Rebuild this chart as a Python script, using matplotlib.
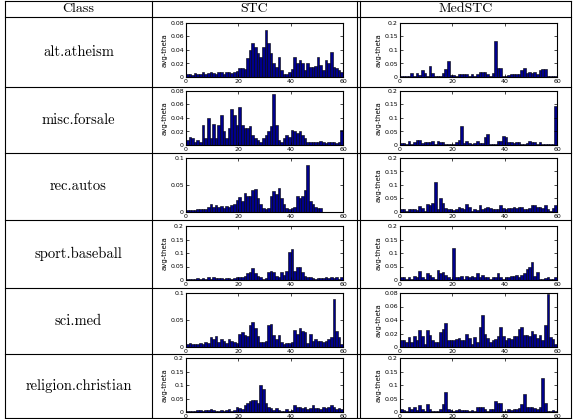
import numpy as np
import matplotlib.pyplot as plt
from matplotlib.lines import Line2D
from matplotlib.ticker import FuncFormatter

W, H = 574, 419

classes = ['alt.atheism', 'misc.forsale', 'rec.autos', 'sport.baseball', 'sci.med', 'religion.christian']

# avg-theta per topic (60 topics)
stc_atheism = [0.004, 0.005, 0.003, 0.006, 0.004, 0.005, 0.007, 0.005, 0.006, 0.008,
               0.006, 0.005, 0.008, 0.007, 0.005, 0.008, 0.007, 0.006, 0.007, 0.009,
               0.013, 0.013, 0.012, 0.028, 0.040, 0.050, 0.045, 0.035, 0.030, 0.045,
               0.070, 0.050, 0.035, 0.020, 0.015, 0.030, 0.010, 0.004, 0.005, 0.008,
               0.012, 0.030, 0.020, 0.025, 0.020, 0.010, 0.020, 0.015, 0.015, 0.016,
               0.030, 0.018, 0.010, 0.025, 0.020, 0.037, 0.015, 0.013, 0.010, 0.008]
med_atheism = [0.005, 0.005, 0.005, 0.005, 0.015, 0.005, 0.015, 0.008, 0.025, 0.015,
               0.005, 0.040, 0.015, 0.005, 0.003, 0.005, 0.015, 0.028, 0.060, 0.008,
               0.008, 0.005, 0.010, 0.010, 0.010, 0.010, 0.005, 0.010, 0.005, 0.010,
               0.020, 0.020, 0.018, 0.010, 0.005, 0.015, 0.135, 0.035, 0.035, 0.005,
               0.003, 0.008, 0.010, 0.010, 0.012, 0.012, 0.025, 0.035, 0.015, 0.018,
               0.015, 0.018, 0.012, 0.025, 0.030, 0.030, 0.005, 0.005, 0.005, 0.005]
stc_forsale = [0.008, 0.012, 0.010, 0.005, 0.008, 0.005, 0.029, 0.010, 0.040, 0.010,
               0.031, 0.010, 0.030, 0.044, 0.020, 0.010, 0.025, 0.054, 0.045, 0.030,
               0.056, 0.030, 0.025, 0.025, 0.028, 0.015, 0.010, 0.008, 0.005, 0.010,
               0.015, 0.020, 0.028, 0.075, 0.030, 0.008, 0.005, 0.010, 0.015, 0.012,
               0.022, 0.020, 0.018, 0.020, 0.015, 0.010, 0.005, 0.005, 0.004, 0.005,
               0.005, 0.006, 0.005, 0.003, 0.005, 0.004, 0.005, 0.003, 0.005, 0.022]
med_forsale = [0.008, 0.008, 0.005, 0.015, 0.005, 0.010, 0.018, 0.018, 0.008, 0.010,
               0.010, 0.012, 0.015, 0.005, 0.015, 0.012, 0.010, 0.005, 0.005, 0.005,
               0.005, 0.010, 0.018, 0.070, 0.008, 0.015, 0.008, 0.003, 0.008, 0.015,
               0.008, 0.008, 0.030, 0.040, 0.003, 0.003, 0.003, 0.015, 0.015, 0.035,
               0.030, 0.010, 0.010, 0.008, 0.012, 0.010, 0.005, 0.005, 0.008, 0.015,
               0.010, 0.010, 0.005, 0.010, 0.005, 0.005, 0.005, 0.003, 0.003, 0.145]
stc_autos = [0.003, 0.004, 0.003, 0.004, 0.005, 0.005, 0.005, 0.006, 0.010, 0.015,
             0.010, 0.013, 0.010, 0.012, 0.008, 0.012, 0.010, 0.013, 0.015, 0.022,
             0.028, 0.020, 0.035, 0.030, 0.030, 0.041, 0.042, 0.025, 0.015, 0.008,
             0.005, 0.008, 0.030, 0.038, 0.033, 0.045, 0.025, 0.015, 0.008, 0.005,
             0.008, 0.010, 0.030, 0.025, 0.030, 0.040, 0.087, 0.020, 0.015, 0.010,
             0.008, 0.008, 0.0, 0.0, 0.0, 0.0, 0.0, 0.0, 0.0, 0.0]
med_autos = [0.010, 0.010, 0.005, 0.010, 0.010, 0.012, 0.008, 0.022, 0.015, 0.005,
             0.030, 0.025, 0.035, 0.110, 0.010, 0.050, 0.035, 0.015, 0.010, 0.010,
             0.008, 0.012, 0.018, 0.015, 0.010, 0.030, 0.020, 0.005, 0.012, 0.008,
             0.025, 0.012, 0.015, 0.018, 0.015, 0.010, 0.010, 0.010, 0.025, 0.015,
             0.012, 0.015, 0.015, 0.018, 0.015, 0.020, 0.018, 0.010, 0.012, 0.015,
             0.025, 0.025, 0.018, 0.020, 0.015, 0.025, 0.010, 0.005, 0.015, 0.025]
stc_baseball = [0.005, 0.005, 0.004, 0.005, 0.006, 0.005, 0.008, 0.005, 0.012, 0.005,
                0.010, 0.008, 0.006, 0.008, 0.005, 0.008, 0.006, 0.005, 0.008, 0.010,
                0.012, 0.012, 0.015, 0.025, 0.030, 0.045, 0.025, 0.015, 0.010, 0.005,
                0.008, 0.030, 0.035, 0.030, 0.015, 0.012, 0.030, 0.020, 0.035, 0.104,
                0.115, 0.035, 0.050, 0.048, 0.030, 0.015, 0.012, 0.010, 0.008, 0.005,
                0.008, 0.006, 0.008, 0.010, 0.008, 0.010, 0.008, 0.010, 0.005, 0.010]
med_baseball = [0.010, 0.010, 0.005, 0.012, 0.005, 0.015, 0.010, 0.035, 0.012, 0.005,
                0.025, 0.018, 0.010, 0.005, 0.038, 0.025, 0.028, 0.020, 0.010, 0.005,
                0.118, 0.010, 0.012, 0.015, 0.005, 0.015, 0.012, 0.015, 0.010, 0.025,
                0.012, 0.020, 0.012, 0.010, 0.005, 0.012, 0.012, 0.025, 0.010, 0.005,
                0.012, 0.012, 0.015, 0.015, 0.020, 0.012, 0.018, 0.025, 0.040, 0.050,
                0.065, 0.015, 0.028, 0.005, 0.003, 0.008, 0.012, 0.005, 0.003, 0.012]
stc_med = [0.005, 0.008, 0.005, 0.006, 0.005, 0.008, 0.005, 0.010, 0.008, 0.018,
           0.015, 0.020, 0.010, 0.015, 0.012, 0.008, 0.015, 0.012, 0.010, 0.008,
           0.025, 0.028, 0.022, 0.020, 0.040, 0.047, 0.035, 0.020, 0.010, 0.010,
           0.012, 0.040, 0.042, 0.022, 0.015, 0.022, 0.010, 0.005, 0.008, 0.008,
           0.010, 0.032, 0.025, 0.035, 0.030, 0.028, 0.008, 0.025, 0.012, 0.015,
           0.012, 0.012, 0.010, 0.012, 0.015, 0.018, 0.088, 0.030, 0.018, 0.006]
med_med = [0.011, 0.010, 0.008, 0.015, 0.008, 0.016, 0.010, 0.025, 0.016, 0.005,
           0.025, 0.018, 0.010, 0.008, 0.008, 0.022, 0.026, 0.036, 0.010, 0.010,
           0.010, 0.012, 0.013, 0.011, 0.010, 0.020, 0.014, 0.005, 0.015, 0.008,
           0.030, 0.047, 0.020, 0.013, 0.008, 0.010, 0.012, 0.016, 0.030, 0.016,
           0.010, 0.014, 0.012, 0.016, 0.017, 0.026, 0.030, 0.018, 0.018, 0.017,
           0.023, 0.020, 0.014, 0.018, 0.010, 0.032, 0.078, 0.015, 0.012, 0.005]
stc_christian = [0.004, 0.005, 0.004, 0.005, 0.006, 0.008, 0.005, 0.006, 0.008, 0.010,
                 0.008, 0.005, 0.005, 0.008, 0.005, 0.008, 0.010, 0.005, 0.008, 0.020,
                 0.015, 0.010, 0.025, 0.035, 0.040, 0.045, 0.045, 0.035, 0.100, 0.085,
                 0.035, 0.020, 0.015, 0.008, 0.015, 0.008, 0.005, 0.005, 0.010, 0.005,
                 0.008, 0.025, 0.020, 0.020, 0.015, 0.020, 0.010, 0.015, 0.025, 0.015,
                 0.015, 0.010, 0.020, 0.015, 0.020, 0.025, 0.020, 0.010, 0.015, 0.012]
med_christian = [0.010, 0.008, 0.005, 0.020, 0.010, 0.018, 0.008, 0.025, 0.012, 0.005,
                 0.028, 0.012, 0.005, 0.005, 0.005, 0.012, 0.030, 0.075, 0.010, 0.008,
                 0.005, 0.008, 0.010, 0.008, 0.008, 0.008, 0.005, 0.008, 0.005, 0.020,
                 0.020, 0.018, 0.010, 0.005, 0.010, 0.010, 0.040, 0.035, 0.035, 0.005,
                 0.005, 0.012, 0.008, 0.010, 0.012, 0.015, 0.030, 0.065, 0.020, 0.020,
                 0.018, 0.015, 0.012, 0.020, 0.125, 0.035, 0.005, 0.005, 0.008, 0.005]

stc_rows = [stc_atheism, stc_forsale, stc_autos, stc_baseball, stc_med, stc_christian]
med_rows = [med_atheism, med_forsale, med_autos, med_baseball, med_med, med_christian]
stc_ymax = [0.08, 0.08, 0.1, 0.2, 0.1, 0.2]
med_ymax = [0.2, 0.2, 0.2, 0.2, 0.08, 0.2]
stc_has_label = [True, True, False, True, False, True]

# table geometry (pixels)
row_lines = [17, 87, 153, 220, 288, 354]
x_left, x_class, x_dbl, x_right = 5, 152, 357, 571
axes_top = [23, 91, 158, 226, 293, 358]
axes_h = 54
stc_x = (186, 343)
med_x = (400, 557)

fig = plt.figure(figsize=(W / 100, H / 100), dpi=100)


def px_line(x0, y0, x1, y1, lw=0.8):
    fig.add_artist(Line2D([x0 / W, x1 / W], [1 - y0 / H, 1 - y1 / H],
                          color='black', linewidth=lw, transform=fig.transFigure))


fmt = FuncFormatter(lambda v, p: '%g' % round(v, 3))


def panel(xr, top, vals, ymax, label):
    ax = fig.add_axes([xr[0] / W, 1 - (top + axes_h) / H, (xr[1] - xr[0]) / W, axes_h / H])
    ax.bar(np.arange(len(vals)), vals, width=1, align='edge',
           color='#00008b', edgecolor='black', linewidth=0.4)
    ax.set_xlim(0, 60)
    ax.set_ylim(0, ymax)
    ax.set_xticks([0, 20, 40, 60])
    step = 0.02 if ymax < 0.1 else 0.05
    ax.set_yticks(np.arange(0, ymax + 1e-9, step))
    ax.yaxis.set_major_formatter(fmt)
    ax.tick_params(direction='in', length=2, width=0.5, labelsize=4.5, pad=1.5,
                   top=True, right=True)
    for s in ax.spines.values():
        s.set_linewidth(0.8)
    if label:
        ax.set_ylabel('avg-theta', fontsize=5, labelpad=2)
    return ax


for i in range(6):
    panel(stc_x, axes_top[i], stc_rows[i], stc_ymax[i], stc_has_label[i])
    panel(med_x, axes_top[i], med_rows[i], med_ymax[i], True)
    y_mid = (row_lines[i] + (row_lines[i + 1] if i < 5 else 418)) / 2
    fig.text((x_left + x_class) / 2 / W, 1 - y_mid / H, classes[i],
             ha='center', va='center', fontsize=10.5, family='cmr10')

# header
for txt, xa, xb in [('Class', x_left, x_class), ('STC', x_class, x_dbl), ('MedSTC', x_dbl + 3, x_right)]:
    fig.text((xa + xb) / 2 / W, 1 - 9 / H, txt, ha='center', va='center', fontsize=10, family='cmr10')

# table lines
px_line(x_left, 1, x_right, 1)
px_line(x_left, 418, x_right, 418)
for y in row_lines:
    px_line(x_left, y, x_right, y)
for x in [x_left, x_class, x_dbl, x_dbl + 3, x_right]:
    px_line(x, 1, x, 418)

fig.savefig('out.png', dpi=100)
